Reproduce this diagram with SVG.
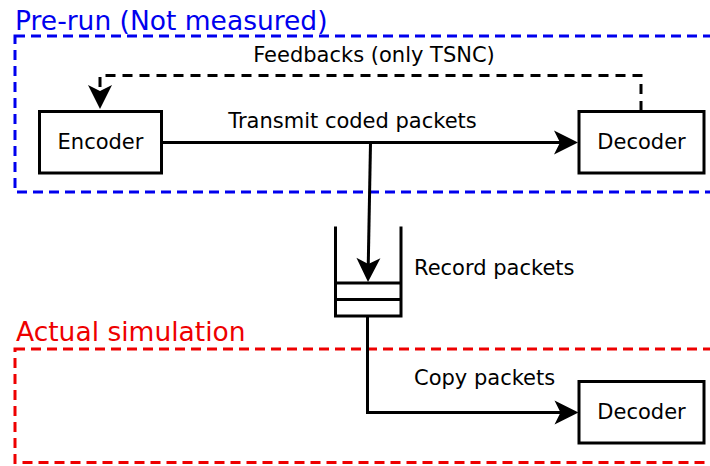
<svg xmlns="http://www.w3.org/2000/svg" width="710" height="466" viewBox="0 0 710 466">
<defs>
<style>
text{font-family:"DejaVu Sans","Liberation Sans",sans-serif;fill:#000}
.lbl{font-size:21px}
.mid{text-anchor:middle}
.title{font-size:26.5px}
.box{fill:#fff;stroke:#000;stroke-width:3}
.line{fill:none;stroke:#000;stroke-width:3}
.dash{fill:none;stroke:#000;stroke-width:3;stroke-dasharray:10,7}
.region{fill:none;stroke-width:3;stroke-dasharray:10,6}
.head{fill:#000;stroke:none}
</style>
<path id="ah" d="M0,0 L-24,-12 L-18,0 L-24,12 Z"/>
</defs>
<g id="prerun-region">
<rect class="region" x="15" y="36" width="720" height="156" stroke="#0000ee"/>
<text class="title" x="15" y="29.5" style="fill:#0000ee">Pre-run (Not measured)</text>
</g>
<g id="actual-region">
<rect class="region" x="15" y="349" width="720" height="113.5" stroke="#ee0000"/>
<text class="title" x="16" y="340.5" style="fill:#ee0000">Actual simulation</text>
</g>
<g id="connectors">
<path class="line" d="M161.5,142.5 H565"/>
<use href="#ah" class="head" transform="translate(578,142.5)"/>
<path class="dash" d="M641,111 V75.5 H100 V92"/>
<use href="#ah" class="head" transform="translate(100,109) rotate(90)"/>
<path class="line" d="M370.5,143 L368.2,268"/>
<use href="#ah" class="head" transform="translate(368,282) rotate(91)"/>
<path class="line" d="M367.5,316 V412.5 H566"/>
<use href="#ah" class="head" transform="translate(578.5,412.5)"/>
<text class="lbl mid" x="352.5" y="128">Transmit coded packets</text>
<text class="lbl mid" x="374" y="61.5">Feedbacks (only TSNC)</text>
<text class="lbl" x="414" y="275">Record packets</text>
<text class="lbl" x="414" y="385">Copy packets</text>
</g>
<g id="encoder">
<rect class="box" x="39.5" y="111.5" width="122" height="61.5"/>
<text class="lbl mid" x="100.5" y="149">Encoder</text>
</g>
<g id="decoder1">
<rect class="box" x="579" y="111.5" width="125" height="61.5"/>
<text class="lbl mid" x="641.5" y="149">Decoder</text>
</g>
<g id="buffer">
<path class="line" d="M335.5,226.5 V316 H401 V226.5 M335.5,283 H401 M335.5,299.5 H401"/>
</g>
<g id="decoder2">
<rect class="box" x="579" y="381.5" width="125" height="61.5"/>
<text class="lbl mid" x="641.5" y="419">Decoder</text>
</g>
</svg>
